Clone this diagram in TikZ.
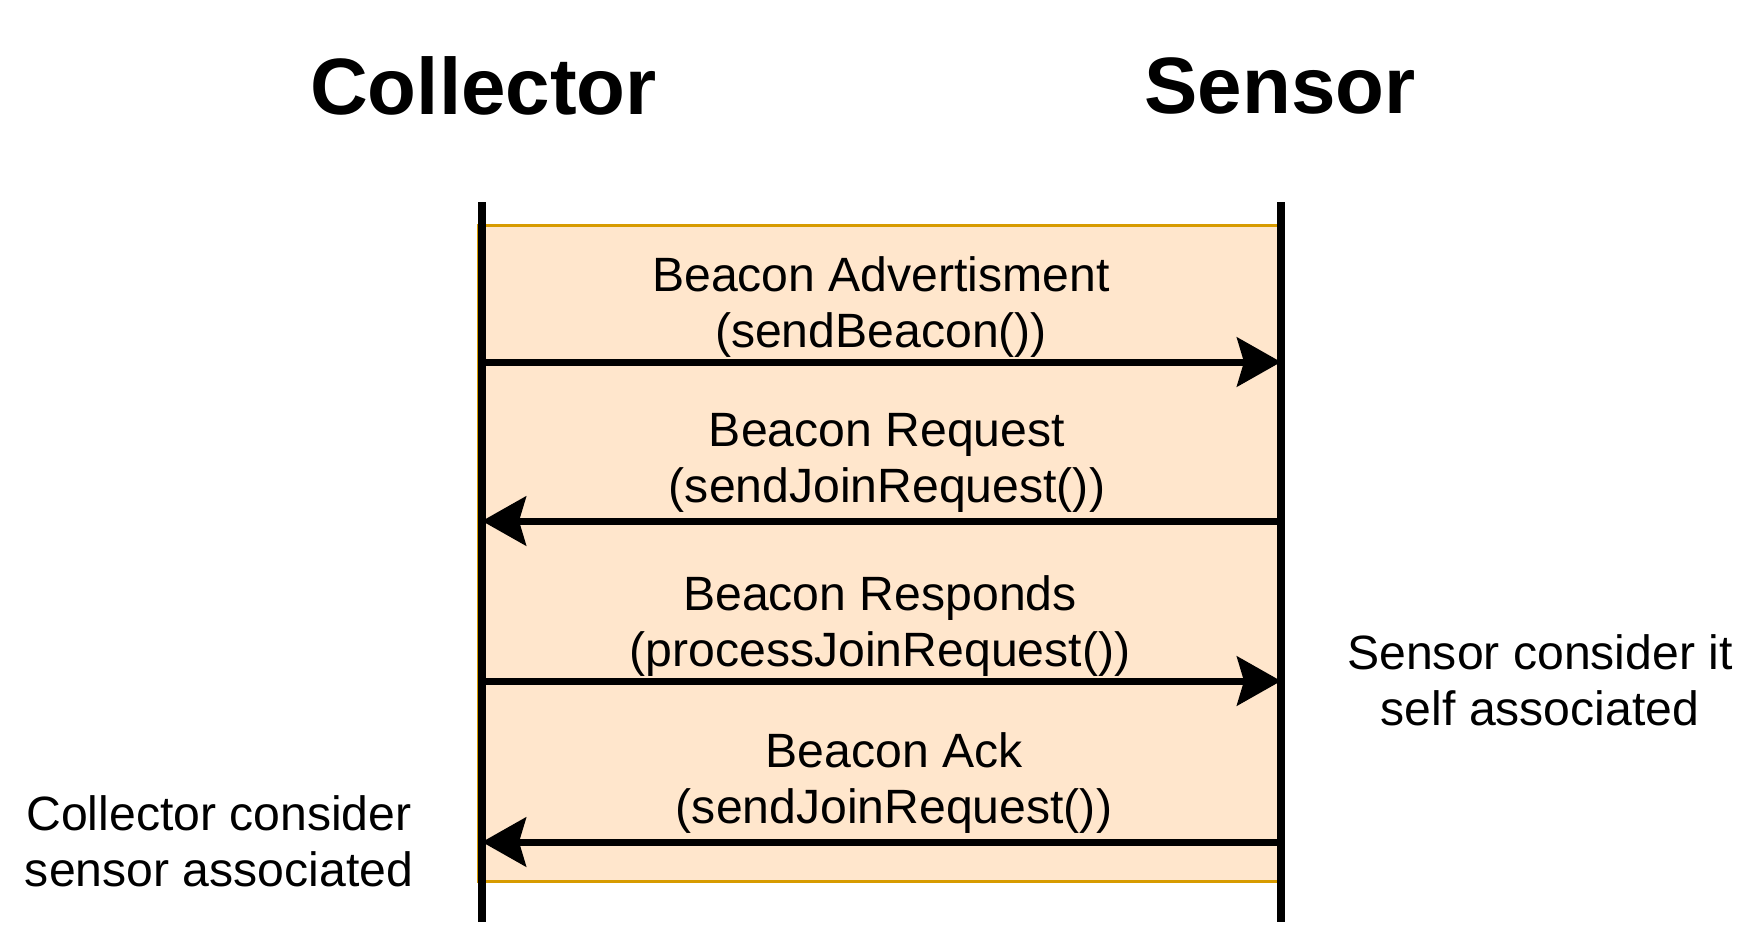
\documentclass[tikz,border=0pt]{standalone}
\usepackage{fontspec}
\setmainfont{Liberation Sans}
\usepackage{tikz}
\usetikzlibrary{arrows.meta}
\definecolor{cframe}{HTML}{D79B00}
\definecolor{cframefill}{HTML}{FFE6CC}

\begin{document}
\begin{tikzpicture}[
  font=\fontsize{27.4}{31.9}\selectfont,
  >={Stealth[length=0.88cm,width=0.98cm,inset=0.14cm]},
  title/.style={font=\fontsize{45.5}{54}\selectfont\bfseries,inner sep=0pt},
  msglabel/.style={align=center,inner sep=0pt},
  msg/.style={->,line width=0.14cm},
  lifeline/.style={line width=0.16cm},
]
\useasboundingbox (0,0) rectangle (35.28,-18.64);
\def\xc{9.64}
\def\xs{25.62}

% ===== FRAME =====
\draw[cframe,fill=cframefill,line width=0.06cm] (9.56,-4.5) rectangle (25.58,-17.62);

% ===== TITLES + LIFELINES =====
\node[title] (collector) at (9.67,-1.72) {Collector};
\node[title] (sensor) at (25.6,-1.72) {Sensor};
\coordinate (ctop) at (\xc,-4.04);
\coordinate (cbot) at (\xc,-18.44);
\coordinate (stop) at (\xs,-4.04);
\coordinate (sbot) at (\xs,-18.44);
\draw[lifeline] (ctop)--(cbot);
\draw[lifeline] (stop)--(sbot);

% ===== MESSAGES =====
\foreach \n/\y in {1/-7.24,2/-10.42,3/-13.62,4/-16.84}{
  \coordinate (c\n) at (\xc,\y);
  \coordinate (s\n) at (\xs,\y);}
\node[msglabel] (lab1) at (17.62,-6.14) {Beacon Advertisment\\(sendBeacon())};
\node[msglabel] (lab2) at (17.74,-9.25) {Beacon Request\\(sendJoinRequest())};
\node[msglabel] (lab3) at (17.6,-12.52) {Beacon Responds\\(processJoinRequest())};
\node[msglabel] (lab4) at (17.88,-15.66) {Beacon Ack\\(sendJoinRequest())};
\draw[msg] (c1)--(s1);
\draw[msg] (s2)--(c2);
\draw[msg] (c3)--(s3);
\draw[msg] (s4)--(c4);

% ===== NOTES =====
\node[msglabel] (cnote) at (4.38,-16.82) {Collector consider\\sensor associated};
\node[msglabel] (snote) at (30.8,-13.61) {Sensor consider it\\self associated};

\end{tikzpicture}
\end{document}
